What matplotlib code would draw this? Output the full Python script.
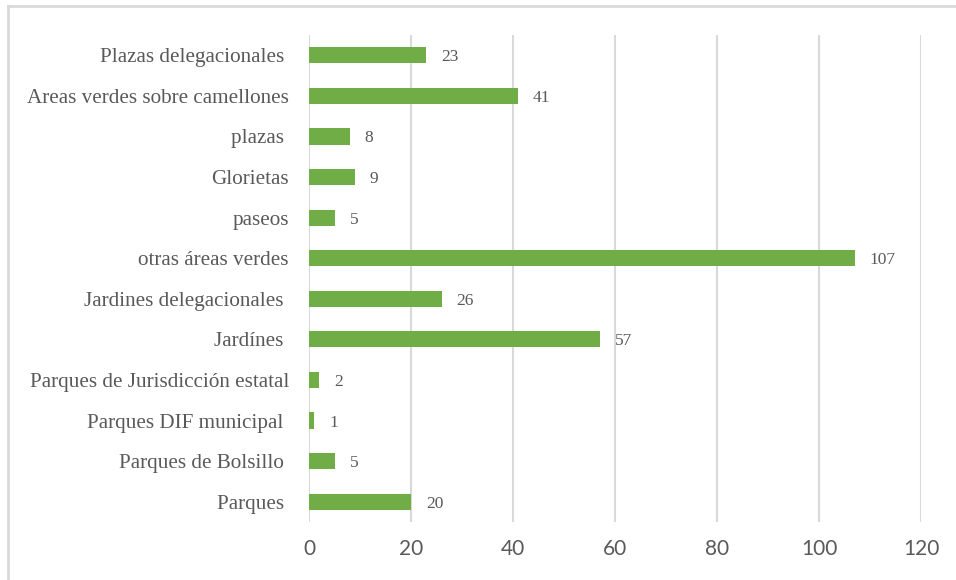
import matplotlib.pyplot as plt
from matplotlib.lines import Line2D

categorias = ["Parques ", "Parques de Bolsillo ", "Parques DIF municipal ",
              "Parques de Jurisdicción estatal", "Jardínes ", "Jardines delegacionales ",
              "otras áreas verdes", "paseos", "Glorietas", "plazas ",
              "Areas verdes sobre camellones", "Plazas delegacionales "]
valores = [20, 5, 1, 2, 57, 26, 107, 5, 9, 8, 41, 23]
xticks = [0, 20, 40, 60, 80, 100, 120]

verde = "#70AD47"
gris_txt = "#595959"
gris_lin = "#D9D9D9"

W, H = 956, 580
fig = plt.figure(figsize=(W / 100, H / 100), dpi=100)
ax = fig.add_axes([309 / W, 1 - 522 / H, (921 - 309) / W, (522 - 35) / H])

pos = range(len(categorias))
ax.barh(pos, valores, height=0.4, color=verde, zorder=3)
for y, v in zip(pos, valores):
    ax.annotate(str(v), (v, y), xytext=(15, -2), textcoords="offset pixels",
                ha="left", va="center", fontsize=12.5, family="Liberation Serif",
                color=gris_txt)

ax.set_xlim(0, 120)
ax.set_ylim(-0.5, len(categorias) - 0.5)
ax.set_xticks(xticks)
ax.set_xticklabels([str(t) for t in xticks], family="Lato", fontsize=15, color=gris_txt)
ax.set_yticks(list(pos))
ax.set_yticklabels(categorias, family="Liberation Serif", fontsize=15.2, color=gris_txt)
ax.tick_params(axis="both", length=0)
ax.tick_params(axis="y", pad=14.4)
ax.tick_params(axis="x", pad=12)
ax.grid(axis="x", color=gris_lin, linewidth=1.5, zorder=0)
for s in ax.spines.values():
    s.set_visible(False)

# borde del recuadro (solo arriba e izquierda visibles)
fig.add_artist(Line2D([8 / W, 1], [1 - 6 / H, 1 - 6 / H], color=gris_lin, linewidth=2,
                      transform=fig.transFigure))
fig.add_artist(Line2D([8 / W, 8 / W], [0, 1 - 6 / H], color=gris_lin, linewidth=2,
                      transform=fig.transFigure))

fig.savefig("out.png", dpi=100)
